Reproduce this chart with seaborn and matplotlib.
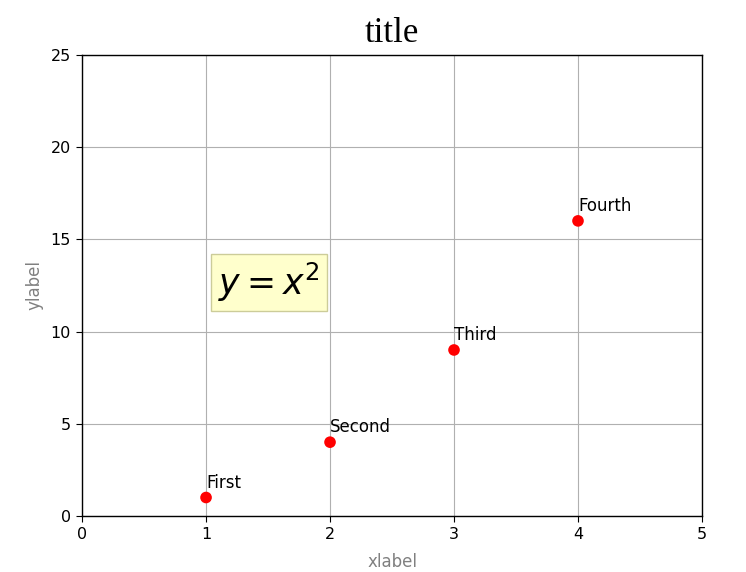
import matplotlib
matplotlib.use("Agg")
import matplotlib.pyplot as plt
import seaborn as sns
import pandas as pd

# --- Data ---
x_values = [1, 2, 3, 4]
y_values = [1, 4, 9, 16]
point_labels = ["First", "Second", "Third", "Fourth"]

sns.set_style("ticks")
plt.rcParams['font.family'] = ['DejaVu Sans']
plt.rcParams['text.color'] = 'black'
plt.rcParams['xtick.color'] = 'black'
plt.rcParams['ytick.color'] = 'black'
plt.rcParams['axes.edgecolor'] = 'black'

df = pd.DataFrame({'x': x_values, 'y': y_values, 'label': point_labels})

fig = plt.figure(figsize=(7.46, 5.72), dpi=100)
ax = fig.add_axes([0.110, 0.098, 0.831, 0.806])

sns.scatterplot(data=df, x='x', y='y', color='red', s=70, edgecolor='none', ax=ax, zorder=3)

# label each point just above it
for _, row in df.iterrows():
    ax.annotate(row['label'], (row['x'], row['y']), xytext=(0, 7),
                textcoords='offset points', fontsize=12, color='black')

ax.text(1.1, 12, r'$y = x^2$', fontsize=25, color='black',
        bbox=dict(facecolor='#ffffcc', edgecolor='#cccc99', pad=5))

ax.set_xlim(0, 5)
ax.set_ylim(0, 25)
ax.set_xticks(range(0, 6))
ax.set_yticks(range(0, 26, 5))
ax.tick_params(labelsize=11.5, length=4.5, colors='black')
ax.grid(True, color='#b0b0b0', linewidth=0.8)
ax.set_axisbelow(True)
for spine in ax.spines.values():
    spine.set_visible(True)
    spine.set_linewidth(1.0)
    spine.set_color('black')

ax.set_title('title', fontsize=25, family='Liberation Serif', pad=9, color='black')
ax.set_xlabel('xlabel', color='gray', fontsize=12, labelpad=8)
ax.set_ylabel('ylabel', color='gray', fontsize=12, labelpad=5)

fig.savefig('out.png', dpi=100)
